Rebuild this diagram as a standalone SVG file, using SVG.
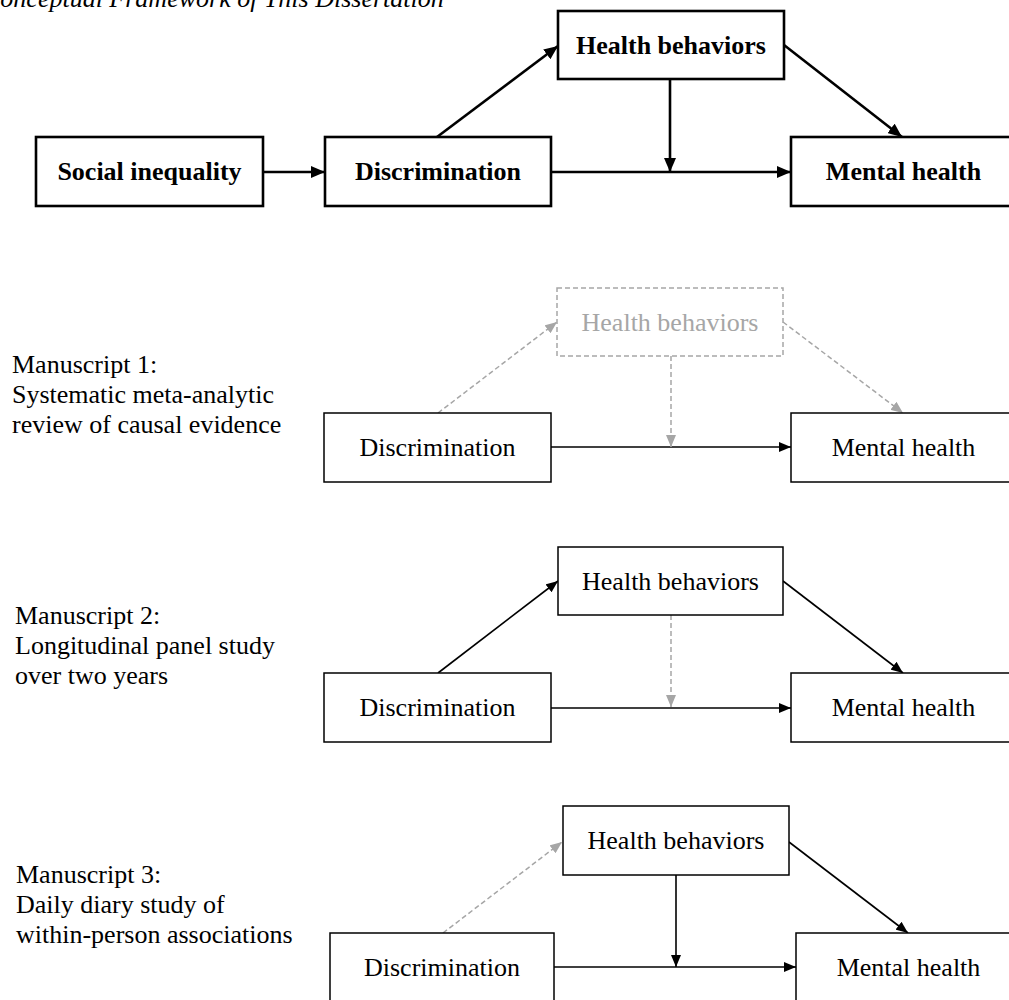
<svg xmlns="http://www.w3.org/2000/svg" width="1009" height="1000" viewBox="0 0 1009 1000">
  <style>
    text { font-family: "Liberation Serif", "Times New Roman", serif; font-size: 26px; fill: #000; }
    .title { font-style: italic; }
    .bold { font-weight: bold; }
    .mid { text-anchor: middle; }
    .faint { fill: #a6a6a6; }
    .box { fill: #fff; stroke: #000; stroke-width: 1.5; }
    .box-main { fill: #fff; stroke: #000; stroke-width: 2.6; }
    .box-faint { fill: #fff; stroke: #a6a6a6; stroke-width: 1.5; stroke-dasharray: 5 3; }
    .link { fill: none; stroke: #000; stroke-width: 1.6; }
    .link-main { fill: none; stroke: #000; stroke-width: 2.6; }
    .link-faint { fill: none; stroke: #a6a6a6; stroke-width: 1.5; stroke-dasharray: 5 3; }
  </style>
  <defs>
    <marker id="head" viewBox="0 0 12 10" refX="12" refY="5" markerWidth="12" markerHeight="10" markerUnits="userSpaceOnUse" orient="auto">
      <path d="M0,0 L12,5 L0,10 z" fill="#000"/>
    </marker>
    <marker id="head-main" viewBox="0 0 14 12" refX="14" refY="6" markerWidth="14" markerHeight="12" markerUnits="userSpaceOnUse" orient="auto">
      <path d="M0,0 L14,6 L0,12 z" fill="#000"/>
    </marker>
    <marker id="head-faint" viewBox="0 0 12 10" refX="12" refY="5" markerWidth="12" markerHeight="10" markerUnits="userSpaceOnUse" orient="auto">
      <path d="M0,0 L12,5 L0,10 z" fill="#a6a6a6"/>
    </marker>
  </defs>

  <rect width="1009" height="1000" fill="#fff"/>

  <text class="title" x="-17" y="7">Conceptual Framework of This Dissertation</text>

  <!-- Connectors -->
  <g id="connectors">
    <!-- overall framework -->
    <line class="link-main" x1="263" y1="172" x2="325" y2="172" marker-end="url(#head-main)"/>
    <line class="link-main" x1="551" y1="172" x2="791" y2="172" marker-end="url(#head-main)"/>
    <line class="link-main" x1="437" y1="137" x2="558" y2="46" marker-end="url(#head-main)"/>
    <line class="link-main" x1="784" y1="45" x2="902" y2="137" marker-end="url(#head-main)"/>
    <line class="link-main" x1="670" y1="79" x2="670" y2="172" marker-end="url(#head-main)"/>

    <!-- manuscript 1 -->
    <line class="link" x1="551" y1="447" x2="791" y2="447" marker-end="url(#head)"/>
    <line class="link-faint" x1="438" y1="413" x2="557" y2="322" marker-end="url(#head-faint)"/>
    <line class="link-faint" x1="783" y1="322" x2="903" y2="413" marker-end="url(#head-faint)"/>
    <line class="link-faint" x1="671" y1="356" x2="671" y2="447" marker-end="url(#head-faint)"/>

    <!-- manuscript 2 -->
    <line class="link" x1="551" y1="708" x2="791" y2="708" marker-end="url(#head)"/>
    <line class="link" x1="438" y1="673" x2="558" y2="581" marker-end="url(#head)"/>
    <line class="link" x1="783" y1="581" x2="903" y2="673" marker-end="url(#head)"/>
    <line class="link-faint" x1="671" y1="615" x2="671" y2="707" marker-end="url(#head-faint)"/>

    <!-- manuscript 3 -->
    <line class="link" x1="554" y1="967" x2="796" y2="967" marker-end="url(#head)"/>
    <line class="link-faint" x1="443" y1="933" x2="562" y2="842" marker-end="url(#head-faint)"/>
    <line class="link" x1="789" y1="842" x2="908" y2="933" marker-end="url(#head)"/>
    <line class="link" x1="676" y1="875" x2="676" y2="967" marker-end="url(#head)"/>
  </g>

  <!-- Overall framework -->
  <g id="fw-social-inequality">
    <rect class="box-main" x="36" y="137" width="227" height="69"/>
    <text class="bold mid" x="149.5" y="180">Social inequality</text>
  </g>
  <g id="fw-discrimination">
    <rect class="box-main" x="325" y="137" width="226" height="69"/>
    <text class="bold mid" x="438" y="180">Discrimination</text>
  </g>
  <g id="fw-health-behaviors">
    <rect class="box-main" x="558" y="11" width="226" height="68"/>
    <text class="bold mid" x="671" y="54">Health behaviors</text>
  </g>
  <g id="fw-mental-health">
    <rect class="box-main" x="791" y="137" width="240" height="69"/>
    <text class="bold mid" x="903.5" y="180">Mental health</text>
  </g>

  <!-- Manuscript 1 -->
  <g id="m1-label">
    <text x="12" y="373">Manuscript 1:</text>
    <text x="12" y="403">Systematic meta-analytic</text>
    <text x="12" y="433">review of causal evidence</text>
  </g>
  <g id="m1-health-behaviors">
    <rect class="box-faint" x="557" y="288" width="226" height="68"/>
    <text class="mid faint" x="670" y="331">Health behaviors</text>
  </g>
  <g id="m1-discrimination">
    <rect class="box" x="324" y="413" width="227" height="69"/>
    <text class="mid" x="437.5" y="456">Discrimination</text>
  </g>
  <g id="m1-mental-health">
    <rect class="box" x="791" y="413" width="240" height="69"/>
    <text class="mid" x="903.5" y="456">Mental health</text>
  </g>

  <!-- Manuscript 2 -->
  <g id="m2-label">
    <text x="15" y="624">Manuscript 2:</text>
    <text x="15" y="654">Longitudinal panel study</text>
    <text x="15" y="684">over two years</text>
  </g>
  <g id="m2-health-behaviors">
    <rect class="box" x="558" y="547" width="225" height="68"/>
    <text class="mid" x="670.5" y="590">Health behaviors</text>
  </g>
  <g id="m2-discrimination">
    <rect class="box" x="324" y="673" width="227" height="69"/>
    <text class="mid" x="437.5" y="716">Discrimination</text>
  </g>
  <g id="m2-mental-health">
    <rect class="box" x="791" y="673" width="240" height="69"/>
    <text class="mid" x="903.5" y="716">Mental health</text>
  </g>

  <!-- Manuscript 3 -->
  <g id="m3-label">
    <text x="16" y="883">Manuscript 3:</text>
    <text x="16" y="913">Daily diary study of</text>
    <text x="16" y="943">within-person associations</text>
  </g>
  <g id="m3-health-behaviors">
    <rect class="box" x="563" y="806" width="226" height="69"/>
    <text class="mid" x="676" y="849">Health behaviors</text>
  </g>
  <g id="m3-discrimination">
    <rect class="box" x="330" y="933" width="224" height="69"/>
    <text class="mid" x="442" y="976">Discrimination</text>
  </g>
  <g id="m3-mental-health">
    <rect class="box" x="796" y="933" width="240" height="69"/>
    <text class="mid" x="908.5" y="976">Mental health</text>
  </g>
</svg>
